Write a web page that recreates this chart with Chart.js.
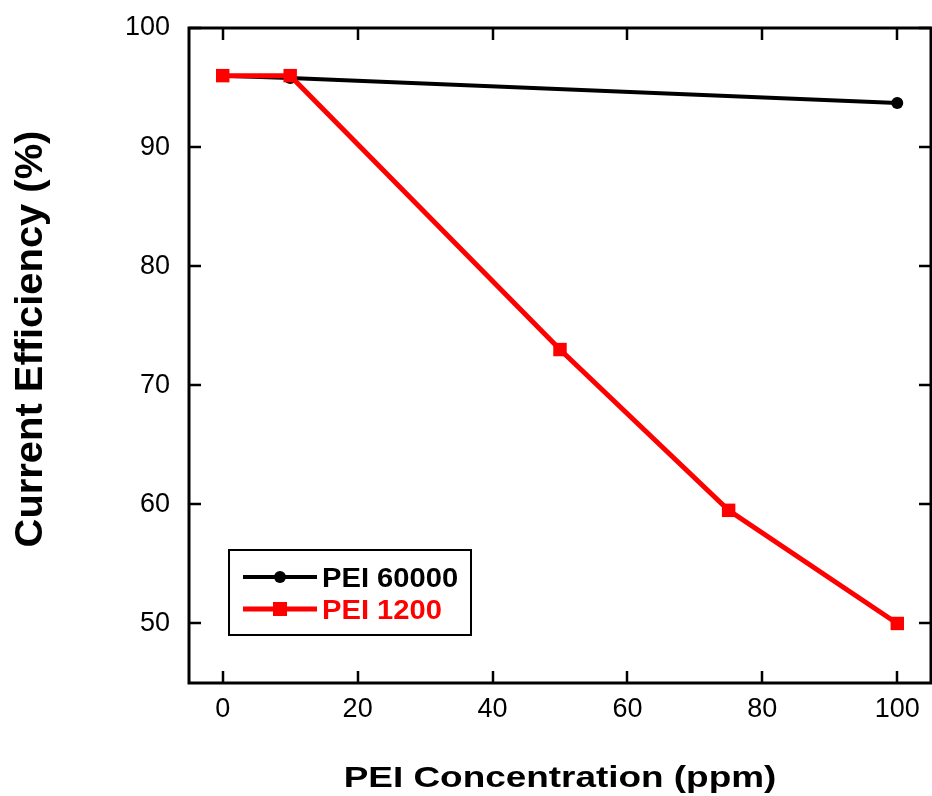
<!DOCTYPE html>
<html lang="en">
<head>
  <meta charset="UTF-8">
  <title>Current Efficiency vs PEI Concentration</title>
  <script src="https://cdn.jsdelivr.net/npm/chart.js@4"></script>
  <style>
    html, body { margin: 0; padding: 0; background: #fff; }
    #wrap { width: 932px; height: 796px; }
  </style>
</head>
<body>
  <div id="wrap"><canvas id="chart" width="932" height="796"></canvas></div>

  <script>
    // data
    const pei60000Conc = [0, 10, 100];
    const pei60000Eff = [96, 95.8, 93.7];
    const pei1200Conc = [0, 10, 50, 75, 100];
    const pei1200Eff = [96, 96, 73, 59.5, 50];

    const xTickValues = [0, 20, 40, 60, 80, 100];
    const yTickValues = [50, 60, 70, 80, 90, 100];

    const seriesLabels = ['PEI 60000', 'PEI 1200'];
    const xTitle = 'PEI Concentration (ppm)';
    const yTitle = 'Current Efficiency (%)';

    const FONT = '"Liberation Sans", Arial, Helvetica, sans-serif';
    const PLOT_RIGHT = 931;

    const toPoints = (xs, ys) => xs.map((x, i) => ({ x: x, y: ys[i] }));

    // chart.js keeps a few px of padding on the right; stretch the plot to the edge
    const stretchPlugin = {
      id: 'stretch',
      afterLayout(chart) {
        const xs = chart.scales.x;
        chart.chartArea.right = PLOT_RIGHT;
        chart.chartArea.width = PLOT_RIGHT - chart.chartArea.left;
        xs.right = PLOT_RIGHT;
        xs.width = PLOT_RIGHT - xs.left;
        xs.configure();
      }
    };

    // frame, inward ticks on all four sides, axis titles and legend box
    const framePlugin = {
      id: 'frame',
      afterDraw(chart) {
        const ctx = chart.ctx;
        const { left, right, top, bottom } = chart.chartArea;
        const xs = chart.scales.x, ys = chart.scales.y;
        const tickLen = 12;

        ctx.save();
        ctx.strokeStyle = '#000';
        ctx.lineWidth = 2.5;
        ctx.beginPath();
        xTickValues.forEach(v => {
          const px = Math.round(xs.getPixelForValue(v));
          ctx.moveTo(px, bottom); ctx.lineTo(px, bottom - tickLen);
          ctx.moveTo(px, top); ctx.lineTo(px, top + tickLen);
        });
        yTickValues.forEach(v => {
          const py = Math.round(ys.getPixelForValue(v));
          ctx.moveTo(left, py); ctx.lineTo(left + tickLen, py);
          ctx.moveTo(right, py); ctx.lineTo(right - tickLen, py);
        });
        ctx.stroke();

        ctx.lineWidth = 3;
        ctx.strokeRect(left, top, right - left, bottom - top);

        // x title (slightly wide lettering, as in the original)
        ctx.fillStyle = '#000';
        ctx.textAlign = 'center';
        ctx.textBaseline = 'alphabetic';
        ctx.save();
        ctx.translate((left + right) / 2, 787);
        ctx.scale(1.23, 1);
        ctx.font = 'bold 30px ' + FONT;
        ctx.fillText(xTitle, 0, 0);
        ctx.restore();

        // y title
        ctx.save();
        ctx.translate(42, 339);
        ctx.rotate(-Math.PI / 2);
        ctx.scale(1.05, 1);
        ctx.font = 'bold 38px ' + FONT;
        ctx.fillText(yTitle, 0, 0);
        ctx.restore();

        // legend
        ctx.lineWidth = 2;
        ctx.strokeStyle = '#000';
        ctx.strokeRect(229, 550, 242, 85);
        const rows = [577, 609];
        chart.data.datasets.forEach((ds, i) => {
          const y = rows[i];
          ctx.strokeStyle = ds.borderColor;
          ctx.lineWidth = ds.borderWidth;
          ctx.beginPath();
          ctx.moveTo(243, y); ctx.lineTo(317, y);
          ctx.stroke();
          ctx.fillStyle = ds.pointBackgroundColor;
          if (ds.pointStyle === 'rect') {
            ctx.fillRect(273, y - 7, 14, 14);
          } else {
            ctx.beginPath();
            ctx.arc(280, y, 6, 0, Math.PI * 2);
            ctx.fill();
          }
          ctx.save();
          ctx.translate(322, y + 10);
          ctx.scale(1.08, 1);
          ctx.font = 'bold 27px ' + FONT;
          ctx.textAlign = 'left';
          ctx.fillStyle = ds.borderColor;
          ctx.fillText(ds.label, 0, 0);
          ctx.restore();
        });
        ctx.restore();
      }
    };

    new Chart(document.getElementById('chart').getContext('2d'), {
      type: 'scatter',
      data: {
        datasets: [
          {
            label: seriesLabels[0],
            data: toPoints(pei60000Conc, pei60000Eff),
            showLine: true,
            borderColor: '#000000',
            backgroundColor: '#000000',
            pointBackgroundColor: '#000000',
            pointBorderWidth: 0,
            borderWidth: 4,
            pointStyle: 'circle',
            pointRadius: 6,
            order: 2,
            clip: false
          },
          {
            label: seriesLabels[1],
            data: toPoints(pei1200Conc, pei1200Eff),
            showLine: true,
            borderColor: '#ff0000',
            backgroundColor: '#ff0000',
            pointBackgroundColor: '#ff0000',
            pointBorderWidth: 0,
            borderWidth: 5,
            pointStyle: 'rect',
            pointRadius: 9.5,
            order: 1,
            clip: false
          }
        ]
      },
      options: {
        responsive: false,
        animation: false,
        events: [],
        layout: { padding: { top: 28, right: 1, left: 0, bottom: 0 } },
        plugins: {
          legend: { display: false },
          tooltip: { enabled: false }
        },
        scales: {
          x: {
            type: 'linear',
            min: -5,
            max: 105,
            afterBuildTicks: s => { s.ticks = xTickValues.map(v => ({ value: v })); },
            afterFit: s => {
              s.height = 113;
              s.paddingLeft = 0; s.paddingRight = 0;
            },
            grid: { display: false, drawTicks: false },
            border: { display: false },
            ticks: {
              padding: 10,
              color: '#000',
              font: { family: FONT, size: 27 }
            }
          },
          y: {
            type: 'linear',
            min: 45,
            max: 100,
            afterBuildTicks: s => { s.ticks = yTickValues.map(v => ({ value: v })); },
            afterFit: s => {
              s.width = 189;
              s.paddingTop = 0; s.paddingBottom = 0;
            },
            grid: { display: false, drawTicks: false },
            border: { display: false },
            ticks: {
              padding: 19,
              color: '#000',
              font: { family: FONT, size: 27 }
            }
          }
        }
      },
      plugins: [stretchPlugin, framePlugin]
    });
  </script>
</body>
</html>
